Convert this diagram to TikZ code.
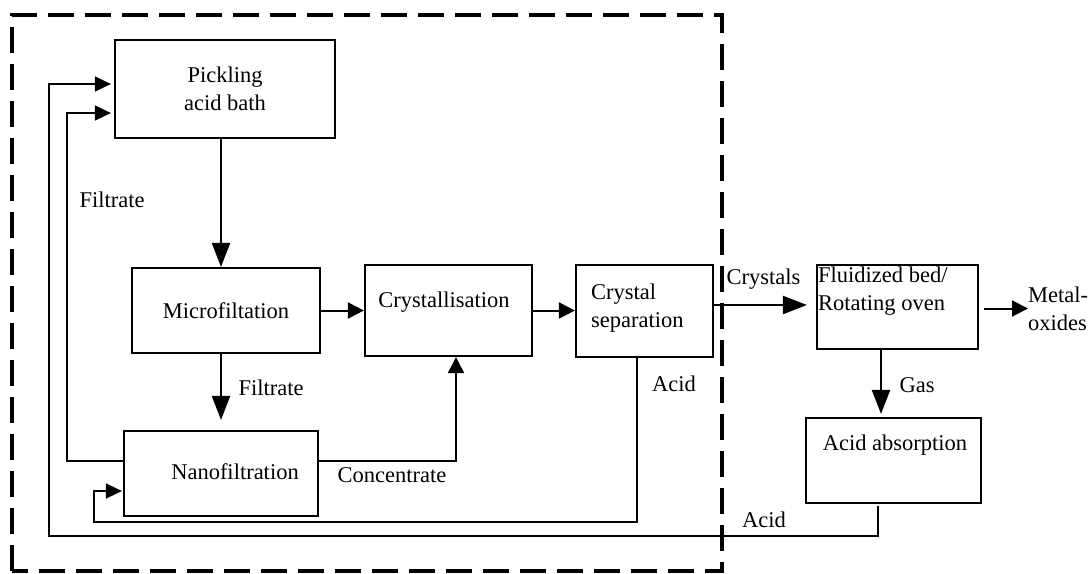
\documentclass[tikz,border=0pt]{standalone}
\usepackage{fontspec}
\setmainfont{Liberation Serif}
\usetikzlibrary{arrows.meta,calc}
\newcommand\myfs{\fontsize{22.5}{28}\selectfont}
\begin{document}
\begin{tikzpicture}[x=1pt,y=-1pt,
  box/.style={draw,line width=2.2pt,inner sep=0pt,font=\myfs,align=center},
  txt/.style={inner sep=0pt,font=\myfs,align=left},
  flow/.style={line width=2.3pt,-{Triangle[length=24pt,width=18pt]}},
  sflow/.style={line width=2pt,-{Triangle[length=16pt,width=16pt]}},
  loopline/.style={line width=1.6pt,-{Triangle[length=16pt,width=15pt]}},
  border/.style={line width=3.5pt,dash pattern=on 26pt off 11pt}]
\useasboundingbox (0,0) rectangle (1089,573);
\draw[border] (12,571) -- (12,15) -- (722,15) -- (722,571) -- cycle;

\node[box,minimum width=220pt,minimum height=98pt] (pick) at (225,89) {Pickling\\acid bath};
\node[box,minimum width=188pt,minimum height=85pt] (micro) at (226,310.5) {Microfiltation};
\node[box,minimum width=167pt,minimum height=91pt] (cryst) at (448.5,310.5) {};
\node[txt] (crysttxt) at (444,302) {Crystallisation};
\node[box,minimum width=137pt,minimum height=92pt] (sep) at (644.5,311) {};
\node[txt,anchor=west] (septxt) at (591,308) {Crystal\\separation};
\node[box,minimum width=161pt,minimum height=84pt] (fluid) at (897.5,307) {};
\node[txt,anchor=west] (fluidtxt) at (818,291.5) {Fluidized bed/\\Rotating oven};
\node[txt,anchor=west] (metal) at (1028,308.5) {Metal-\\oxides};
\node[box,minimum width=175pt,minimum height=85pt] (absorb) at (893.5,460.5) {};
\node[txt] (absorbtxt) at (895,445) {Acid absorption};
\node[box,minimum width=194pt,minimum height=85pt] (nano) at (221,473.5) {};
\node[txt] (nanotxt) at (235,472) {Nanofiltration};

\node[txt] (lf1) at (112,200) {Filtrate};
\node[txt] (lf2) at (271,388) {Filtrate};
\node[txt] (lconc) at (392,475) {Concentrate};
\node[txt] (lacid1) at (674,384) {Acid};
\node[txt] (lcrys) at (763.5,279) {Crystals};
\node[txt] (lgas) at (917,385) {Gas};
\node[txt] (lacid2) at (764,520) {Acid};

\coordinate (gx) at (881,0);
\coordinate (cx) at (456,0);
\coordinate (f1) at (67,113);
\coordinate (a1) at (637,522);
\coordinate (a2) at (94,522);
\coordinate (a3) at (94,491);
\coordinate (b0) at (878,506);
\coordinate (b1) at (878,536);
\coordinate (b2) at (49,536);
\coordinate (b3) at (49,84);
\coordinate (cy) at (0,305);

\draw[flow] (pick.south -| nano.north) -- (micro.north -| nano.north);
\draw[flow,shorten >=10pt] (micro.south -| nano.north) -- (nano.north);
\draw[sflow] (micro.east) -- (micro.east -| cryst.west);
\draw[sflow] (cryst.east) -- (cryst.east -| sep.west);
\draw[flow,shorten >=9pt] (sep.east |- cy) -- (fluid.west |- cy);
\draw[sflow] ([xshift=5pt]fluid.east |- metal.west) -- (metal.west);
\draw[flow,shorten >=3pt] (fluid.south -| gx) -- (absorb.north -| gx);
\draw[sflow] ($(nano.east)+(0,-12.5)$) -| (cryst.south -| cx);
\draw[loopline,shorten >=3pt] ($(nano.west)+(0,-12.5)$) -| (f1) -- (f1 -| pick.west);
\draw[loopline,shorten >=1pt] (sep.south -| a1) -- (a1) -- (a2) -- (a3) -- (a3 -| nano.west);
\draw[loopline,shorten >=3pt] (b0) -- (b1) -- (b2) -- (b3) -- (b3 -| pick.west);
\end{tikzpicture}
\end{document}
